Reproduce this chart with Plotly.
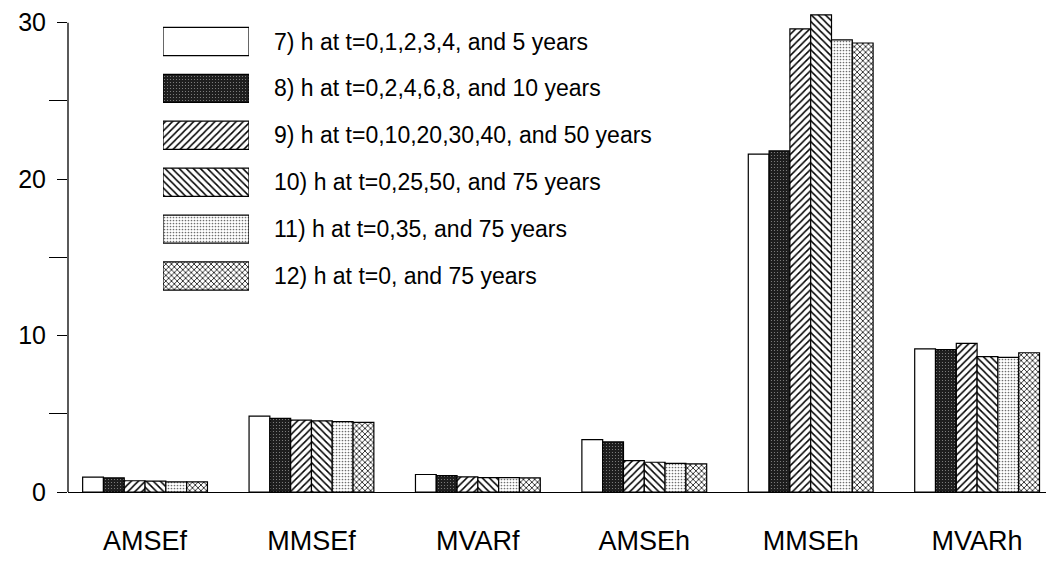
import plotly.graph_objects as go

# Error measures (groups along the x axis)
categories = ["AMSEf", "MMSEf", "MVARf", "AMSEh", "MMSEh", "MVARh"]

# Sampling designs (one bar per design in each group)
series_names = [
    "7) h at t=0,1,2,3,4, and 5 years",
    "8) h at t=0,2,4,6,8, and 10 years",
    "9) h at t=0,10,20,30,40, and 50 years",
    "10) h at t=0,25,50, and 75 years",
    "11) h at t=0,35, and 75 years",
    "12) h at t=0, and 75 years",
]

design_7 = [0.95, 4.85, 1.12, 3.35, 21.6, 9.15]
design_8 = [0.90, 4.70, 1.05, 3.20, 21.8, 9.10]
design_9 = [0.72, 4.60, 0.97, 2.00, 29.6, 9.50]
design_10 = [0.70, 4.55, 0.92, 1.90, 30.5, 8.65]
design_11 = [0.65, 4.50, 0.92, 1.83, 28.9, 8.60]
design_12 = [0.65, 4.45, 0.90, 1.80, 28.7, 8.90]

y_ticks = [0, 10, 20, 30]

series_values = [design_7, design_8, design_9, design_10, design_11, design_12]

# Black-and-white fill styles for each design
fills = [
    dict(color="white", pattern=dict(shape="", bgcolor="white")),
    dict(color="#1e1e1e", pattern=dict(shape=".", fgcolor="#8a8a8a", bgcolor="#1e1e1e",
                                       size=3, solidity=0.12, fillmode="replace")),
    dict(color="white", pattern=dict(shape="/", fgcolor="black", bgcolor="white",
                                     size=5, solidity=0.3, fillmode="replace")),
    dict(color="white", pattern=dict(shape="\\", fgcolor="black", bgcolor="white",
                                     size=5, solidity=0.3, fillmode="replace")),
    dict(color="white", pattern=dict(shape=".", fgcolor="#6e6e6e", bgcolor="white",
                                     size=3, solidity=0.25, fillmode="replace")),
    dict(color="white", pattern=dict(shape="x", fgcolor="black", bgcolor="white",
                                     size=4, solidity=0.35, fillmode="replace")),
]

FONT = "Liberation Sans, Arial, sans-serif"

fig = go.Figure()

for name, vals, fill in zip(series_names, series_values, fills):
    fig.add_trace(go.Bar(
        x=categories, y=vals, name=name, showlegend=False,
        marker=dict(color=fill["color"], pattern=fill["pattern"],
                    line=dict(color="black", width=1.2)),
    ))

# Legend keys drawn as wide swatches on a small inset axis
for name, fill in zip(series_names, fills):
    fig.add_trace(go.Bar(
        x=[1], y=[name], orientation="h", width=0.6, showlegend=False,
        xaxis="x2", yaxis="y2", hoverinfo="skip",
        marker=dict(color=fill["color"], pattern=fill["pattern"],
                    line=dict(color="black", width=1.2)),
    ))

W, H = 1050, 574
ml, mr, mt, mb = 68, 4, 7, 82
pw, ph = W - ml - mr, H - mt - mb

def dom_x(px0, px1):
    return [(px0 - ml) / pw, (px1 - ml) / pw]

def dom_y(py_top, py_bot):
    return [(H - mb - py_bot) / ph, (H - mb - py_top) / ph]

fig.update_layout(
    width=W, height=H,
    margin=dict(l=ml, r=mr, t=mt, b=mb),
    paper_bgcolor="white", plot_bgcolor="white",
    barmode="group", bargap=0.25, bargroupgap=0,
    font=dict(family=FONT, color="black"),
    xaxis=dict(
        range=[-0.463, 5.414], showline=True, linecolor="black", linewidth=1.3,
        ticks="", showgrid=False, zeroline=False,
        tickfont=dict(size=27), ticklabelstandoff=24,
    ),
    yaxis=dict(
        range=[0, 31], tickvals=y_ticks, showline=False, showgrid=False,
        zeroline=False, ticks="outside", ticklen=10, tickwidth=1.3,
        tickcolor="black", tickfont=dict(size=25), ticklabelstandoff=6,
        minor=dict(tickvals=[5, 15, 25], ticks="outside", ticklen=18,
                   tickwidth=1.3, tickcolor="black", showgrid=False),
    ),
    xaxis2=dict(domain=dom_x(163, 249), range=[0, 1], anchor="y2",
                visible=False, fixedrange=True),
    yaxis2=dict(domain=dom_y(18, 299.5), anchor="x2", side="right",
                autorange="reversed", showline=False, showgrid=False,
                zeroline=False, ticks="", tickfont=dict(size=23),
                ticklabelstandoff=24, fixedrange=True),
    shapes=[
        dict(type="line", xref="paper", yref="y", x0=0, x1=0, y0=0, y1=30,
             line=dict(color="black", width=1.3)),
    ],
)

fig.write_html("out.html")
